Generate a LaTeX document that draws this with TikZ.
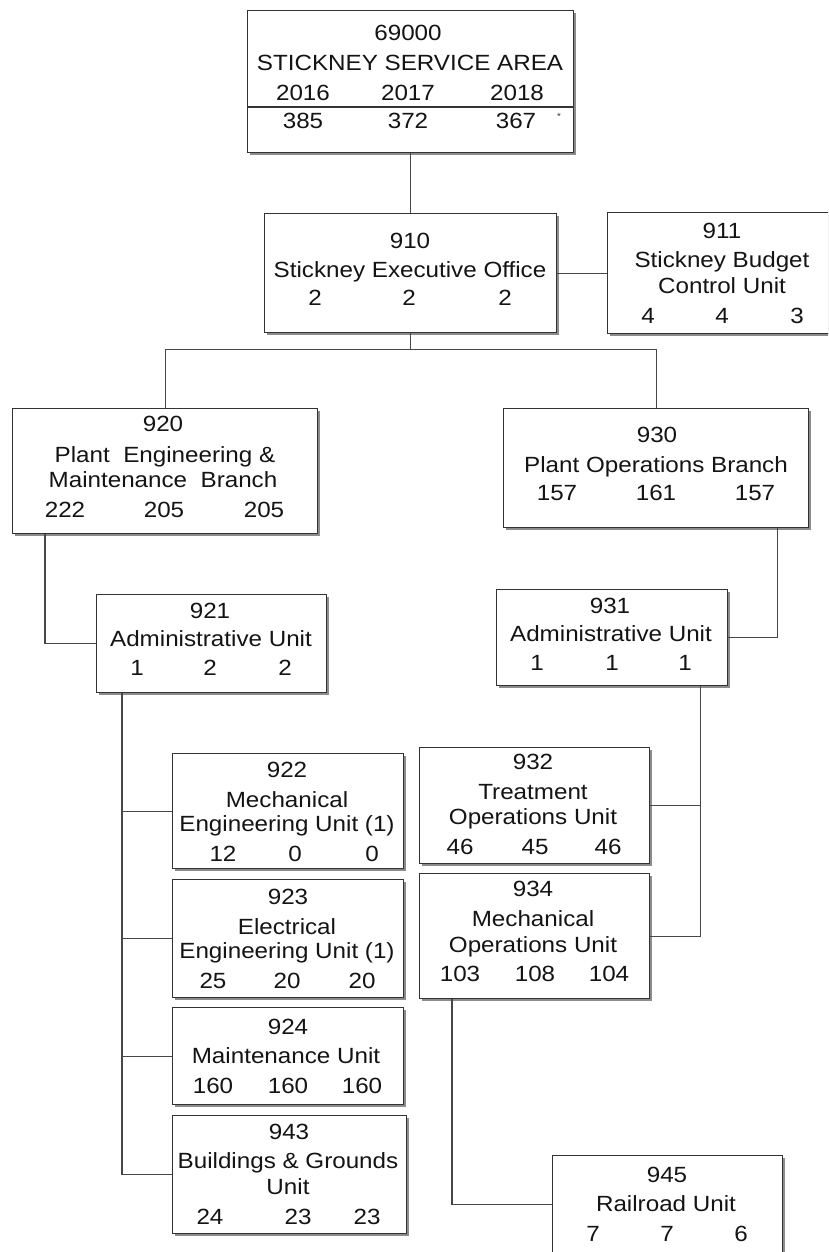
\documentclass[tikz,border=0pt]{standalone}
\usepackage{fontspec}
\setmainfont[FakeStretch=1.1]{Liberation Sans}
\usetikzlibrary{shadows,calc}

% one row of three staff counts inside a unit box
\newcommand\countrow[8]{%
  \node[lbl] (#1a) at (#3,#2) {#4};
  \node[lbl] (#1b) at (#5,#2) {#6};
  \node[lbl] (#1c) at (#7,#2) {#8};}

\begin{document}
\begin{tikzpicture}[x=1pt,y=-1pt,
  unitbox/.style={draw=black!80, line width=1.2pt, fill=white, inner sep=0pt,
    anchor=north west,
    drop shadow={shadow xshift=2.2pt, shadow yshift=-2.2pt, fill=black!45, opacity=1}},
  link/.style={draw=black!72, line width=1.1pt},
  lbl/.style={inner sep=0pt, text height=15.7pt, text depth=0pt,
    font=\fontsize{22}{26}\selectfont, text=black!92},
]
\useasboundingbox (0,0) rectangle (828,1252);
\clip (0,0) rectangle (828,1252);
\fill[white] (0,0) rectangle (828,1252);

% ---- unit boxes ----
\node[unitbox, minimum width=326pt, minimum height=142pt] (top)  at (247,10)   {};
\node[unitbox, minimum width=292pt, minimum height=119pt] (n910) at (264,213)  {};
\node[unitbox, minimum width=240pt, minimum height=121pt] (n911) at (607,212)  {};
\node[unitbox, minimum width=305pt, minimum height=125pt] (n920) at (12,408)   {};
\node[unitbox, minimum width=305pt, minimum height=119pt] (n930) at (503,408)  {};
\node[unitbox, minimum width=230pt, minimum height=98pt]  (n921) at (96,594)   {};
\node[unitbox, minimum width=231pt, minimum height=96pt]  (n931) at (496,589)  {};
\node[unitbox, minimum width=231pt, minimum height=115pt] (n922) at (172,753)  {};
\node[unitbox, minimum width=231pt, minimum height=118pt] (n923) at (172,879)  {};
\node[unitbox, minimum width=231pt, minimum height=97pt]  (n924) at (172,1007) {};
\node[unitbox, minimum width=234pt, minimum height=118pt] (n943) at (172,1115) {};
\node[unitbox, minimum width=230pt, minimum height=116pt] (n932) at (419,747)  {};
\node[unitbox, minimum width=230pt, minimum height=125pt] (n934) at (419,873)  {};
\node[unitbox, minimum width=230pt, minimum height=98pt]  (n945) at (552,1155) {};

% divider under the year headings
\draw[draw=black!80, line width=1.2pt]
  ($(top.north west)+(0,97)$) -- ($(top.north east)+(0,97)$);

% ---- connectors ----
\draw[link] (top.south) -- (n910.north);
\draw[link] (n910.east) -- (n911.west);
\coordinate (bus) at ($(n910.south)+(0,16)$);
\draw[link] (n910.south) -- (bus);
\draw[link] (bus) -| (n920.north);
\draw[link] (bus) -| (n930.north);
\draw[link] ([xshift=33pt]n920.south west) |- (n921.west);
\draw[link] ([xshift=-32pt]n930.south east) |- (n931.east);
\coordinate (ltrunk) at ([xshift=26pt]n921.south west);
\draw[link] (ltrunk) |- (n943.west);
\draw[link] (n922.west) -- (n922.west -| ltrunk);
\draw[link] (n923.west) -- (n923.west -| ltrunk);
\draw[link] (n924.west) -- (n924.west -| ltrunk);
\coordinate (rtrunk) at ([xshift=-28pt]n931.south east);
\draw[link] (rtrunk) |- (n934.east);
\draw[link] (n932.east) -- (n932.east -| rtrunk);
\draw[link] ([xshift=33pt]n934.south west) |- (n945.west);

% ---- texts ----
\node[lbl] (t0a) at (408,33) {69000};
\node[lbl] (t0b) at (410,63) {STICKNEY SERVICE AREA};
\countrow{t0y}{93}{303}{2016}{408}{2017}{517}{2018}
\countrow{t0n}{121}{303}{385}{408}{372}{516}{367}
\node[inner sep=0pt, font=\fontsize{9}{9}\selectfont, text=black!80] (ast) at (559,116) {*};

\node[lbl] (t910a) at (410,241) {910};
\node[lbl] (t910b) at (410,270) {Stickney Executive Office};
\countrow{t910n}{298}{315}{2}{409}{2}{505}{2}

\node[lbl] (t911a) at (722,231) {911};
\node[lbl] (t911b) at (722,260) {Stickney Budget};
\node[lbl] (t911c) at (722,286) {Control Unit};
\countrow{t911n}{316}{648}{4}{722}{4}{797}{3}

\node[lbl] (t920a) at (163,424) {920};
\node[lbl] (t920b) at (165,455) {Plant\ \ Engineering \&};
\node[lbl] (t920c) at (163,480) {Maintenance\ \ Branch};
\countrow{t920n}{510}{65}{222}{164}{205}{264}{205}

\node[lbl] (t930a) at (657,435) {930};
\node[lbl] (t930b) at (656,465) {Plant Operations Branch};
\countrow{t930n}{493}{557}{157}{656}{161}{755}{157}

\node[lbl] (t921a) at (210,611) {921};
\node[lbl] (t921b) at (211,639) {Administrative Unit};
\countrow{t921n}{668}{137}{1}{210}{2}{285}{2}

\node[lbl] (t931a) at (610,606) {931};
\node[lbl] (t931b) at (611,634) {Administrative Unit};
\countrow{t931n}{663}{537}{1}{612}{1}{685}{1}

\node[lbl] (t922a) at (287,770) {922};
\node[lbl] (t922b) at (287,800) {Mechanical};
\node[lbl] (t922c) at (287,824) {Engineering Unit (1)};
\countrow{t922n}{854}{223}{12}{295}{0}{372}{0}

\node[lbl] (t923a) at (288,897) {923};
\node[lbl] (t923b) at (287,927) {Electrical};
\node[lbl] (t923c) at (287,951) {Engineering Unit (1)};
\countrow{t923n}{981}{213}{25}{287}{20}{362}{20}

\node[lbl] (t924a) at (288,1027) {924};
\node[lbl] (t924b) at (286,1056) {Maintenance Unit};
\countrow{t924n}{1086}{213}{160}{288}{160}{362}{160}

\node[lbl] (t943a) at (289,1132) {943};
\node[lbl] (t943b) at (288,1161) {Buildings \& Grounds};
\node[lbl] (t943c) at (288,1187) {Unit};
\countrow{t943n}{1217}{210}{24}{298}{23}{367}{23}

\node[lbl] (t932a) at (533,762) {932};
\node[lbl] (t932b) at (533,792) {Treatment};
\node[lbl] (t932c) at (533,817) {Operations Unit};
\countrow{t932n}{847}{460}{46}{535}{45}{608}{46}

\node[lbl] (t934a) at (533,889) {934};
\node[lbl] (t934b) at (533,919) {Mechanical};
\node[lbl] (t934c) at (533,945) {Operations Unit};
\countrow{t934n}{974}{460}{103}{535}{108}{609}{104}

\node[lbl] (t945a) at (667,1175) {945};
\node[lbl] (t945b) at (666,1204) {Railroad Unit};
\countrow{t945n}{1234}{593}{7}{667}{7}{741}{6}
\end{tikzpicture}
\end{document}
